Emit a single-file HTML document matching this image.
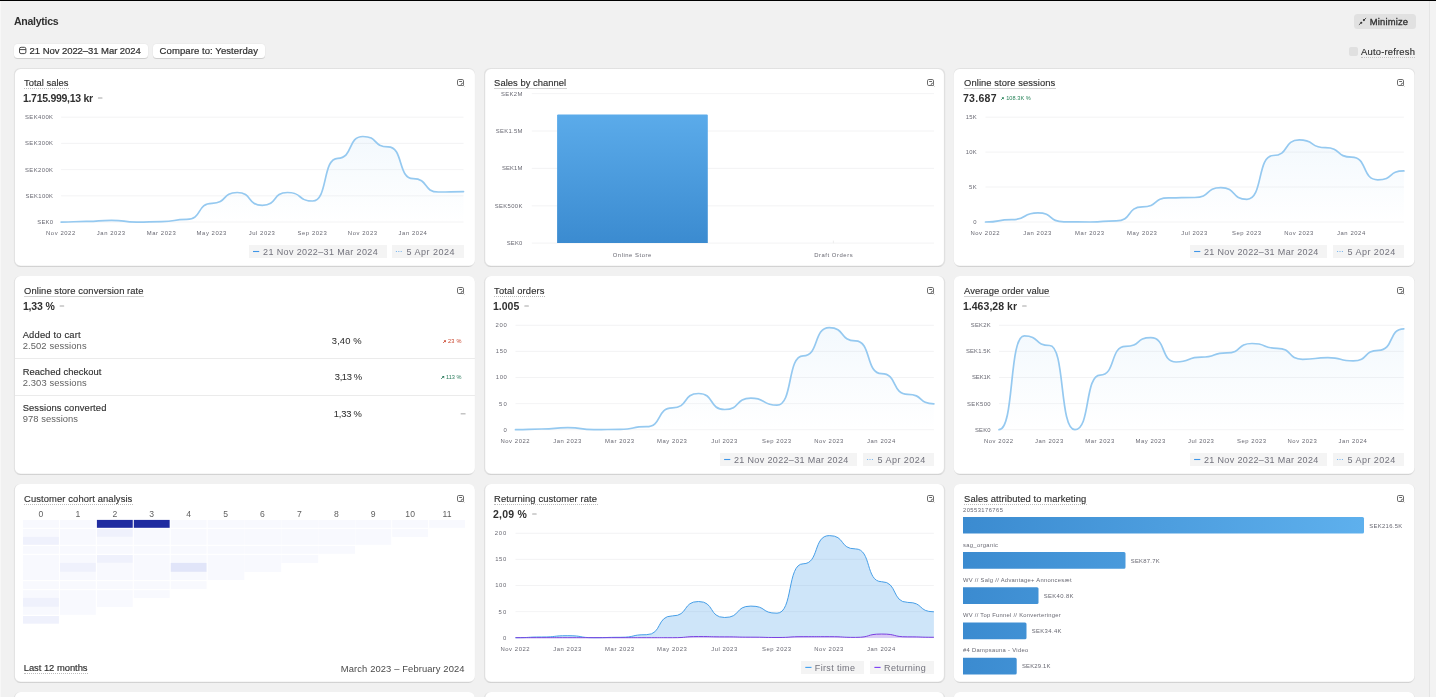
<!DOCTYPE html>
<html><head><meta charset="utf-8"><title>Analytics</title>
<style>
html,body{margin:0;padding:0;}
body{width:1436px;height:697px;overflow:hidden;position:relative;background:#f1f1f1;font-family:"Liberation Sans",sans-serif;}
.t{position:absolute;white-space:nowrap;}
.card{position:absolute;background:#fff;border-radius:6px;box-shadow:0 1px 0 0 rgba(0,0,0,0.12),0 0 0 0.5px rgba(0,0,0,0.07);}
.abs{position:absolute;}
svg{position:absolute;left:0;top:0;overflow:visible;}
svg text{font-family:"Liberation Sans",sans-serif;}
.ul{position:absolute;height:0;border-top:1px dotted #bcbcbc;}
#root{position:absolute;left:0;top:0;width:1436px;height:697px;will-change:transform;}
</style></head><body><div id="root">
<div class="abs" style="left:0;top:0;width:1436px;height:1px;background:#000"></div>
<div class="abs" style="left:0;top:1px;width:1px;height:696px;background:#f7f7f7"></div>
<div class="abs" style="left:1429px;top:1px;width:1px;height:696px;background:#e4e4e4"></div>
<div class="abs" style="left:1430px;top:1px;width:6px;height:696px;background:#f3f3f3"></div>
<svg width="1436" height="697"><defs><linearGradient id="cardg" x1="0" y1="0" x2="0" y2="1"><stop offset="0" stop-color="#e2e2e2"/><stop offset="0.02" stop-color="#e0e0e0"/><stop offset="0.99" stop-color="#e0e0e0"/><stop offset="1" stop-color="#cfcfcf"/></linearGradient></defs></svg>
<span class="t " style="left:13.90px;top:14px;font-size:10.6px;line-height:14px;color:#303030;font-weight:700;letter-spacing:-0.292px;">Analytics</span>
<div class="abs" style="left:14.2px;top:43.6px;width:133.5px;height:14.0px;background:#fff;border-radius:3.5px;box-shadow:0 1px 0 0 rgba(0,0,0,0.13),0 0 0 0.5px rgba(0,0,0,0.04)"></div>
<div class="abs" style="left:153.2px;top:43.6px;width:111.6px;height:14.0px;background:#fff;border-radius:3.5px;box-shadow:0 1px 0 0 rgba(0,0,0,0.13),0 0 0 0.5px rgba(0,0,0,0.04)"></div>
<svg width="1436" height="697"><g fill="none" stroke="#4a4a4a" stroke-width="1"><rect x="19.5" y="47.3" width="6.4" height="6.3" rx="1.6"/><path d="M19.5 49.6h6.4"/></g></svg>
<span class="t " style="left:29.60px;top:45px;font-size:9.5px;line-height:12px;color:#303030;letter-spacing:-0.057px;-webkit-text-stroke:0.2px #303030;">21 Nov 2022–31 Mar 2024</span>
<span class="t " style="left:159.60px;top:45px;font-size:9.5px;line-height:12px;color:#303030;letter-spacing:0.084px;-webkit-text-stroke:0.2px #303030;">Compare to: Yesterday</span>
<div class="abs" style="left:1354px;top:14.2px;width:61.8px;height:14.5px;background:#e1e1e1;border-radius:3.5px"></div>
<svg width="1436" height="697"><path d="M1359.2 24.6L1361 22.9M1364.2 19.8L1365.8 18.3" fill="none" stroke="#3a3a3a" stroke-width="0.9" stroke-linecap="round"/><g fill="#333"><circle cx="1361.3" cy="22.7" r="1.05"/><circle cx="1363.9" cy="20.1" r="1.05"/></g></svg>
<span class="t " style="left:1369.80px;top:16px;font-size:9.4px;line-height:12px;color:#303030;letter-spacing:0.177px;-webkit-text-stroke:0.3px #303030;">Minimize</span>
<div class="abs" style="left:1349.2px;top:47px;width:8.6px;height:8.7px;background:#e0e0e0;border-radius:2px"></div>
<span class="t " style="left:1361.10px;top:46px;font-size:9.4px;line-height:12px;color:#303030;letter-spacing:0.198px;-webkit-text-stroke:0.15px #303030;">Auto-refresh</span>
<div class="ul" style="left:1361px;top:57px;width:54.4px;border-top-color:#c6c6c6"></div>
<svg width="1436" height="697"><rect x="13.90" y="68.00" width="461.15" height="198.90" rx="6.4" fill="url(#cardg)"/><rect x="14.90" y="69.00" width="460.00" height="196.80" rx="5.8" fill="#fff"/></svg>
<svg width="1436" height="697"><g fill="none" stroke="#6c6c6c" stroke-width="1"><rect x="457.5" y="79.5" width="6" height="6" rx="1.3" fill="#fff"/><path d="M459.2 81.5h2.8"/><circle cx="462.4" cy="84.4" r="1.15" fill="#fff"/><path d="M463.3 85.3l1 1" stroke-width="0.8"/></g></svg>
<span class="t " style="left:24.10px;top:77px;font-size:9.4px;line-height:12px;color:#303030;letter-spacing:0.008px;-webkit-text-stroke:0.14px #303030;">Total sales</span>
<div class="ul" style="left:24.0px;top:88.1px;width:45.0px;"></div>
<span class="t " style="left:22.90px;top:91px;font-size:10.5px;line-height:14px;color:#303030;font-weight:700;letter-spacing:-0.277px;">1.715.999,13 kr</span>
<svg width="1436" height="697"><rect x="97.9" y="97.2" width="4.6" height="1.6" rx="0.5" fill="#c4c4c4"/></svg>
<svg width="1436" height="697"><defs><linearGradient id="g1" x1="0" y1="0" x2="0" y2="1"><stop offset="0" stop-color="#8fc5ee" stop-opacity="0.105"/><stop offset="1" stop-color="#8fc5ee" stop-opacity="0"/></linearGradient></defs><path d="M61.1 117.20H463.5" stroke="#f0f0f1" stroke-width="0.8"/><path d="M61.1 143.40H463.5" stroke="#f0f0f1" stroke-width="0.8"/><path d="M61.1 169.60H463.5" stroke="#f0f0f1" stroke-width="0.8"/><path d="M61.1 195.80H463.5" stroke="#f0f0f1" stroke-width="0.8"/><path d="M61.1 222.00H463.5" stroke="#f0f0f1" stroke-width="0.8"/><text x="53.00" y="119.10" font-size="5.9" text-anchor="end" textLength="28.00" lengthAdjust="spacing" fill="#686872">SEK400K</text><text x="53.00" y="145.30" font-size="5.9" text-anchor="end" textLength="28.00" lengthAdjust="spacing" fill="#686872">SEK300K</text><text x="53.00" y="171.50" font-size="5.9" text-anchor="end" textLength="28.00" lengthAdjust="spacing" fill="#686872">SEK200K</text><text x="53.00" y="197.70" font-size="5.9" text-anchor="end" textLength="27.40" lengthAdjust="spacing" fill="#686872">SEK100K</text><text x="53.00" y="223.90" font-size="5.9" text-anchor="end" textLength="15.70" lengthAdjust="spacing" fill="#686872">SEK0</text><text x="60.60" y="235.20" font-size="5.9" text-anchor="middle" textLength="29.20" lengthAdjust="spacing" fill="#686872">Nov 2022</text><text x="110.90" y="235.20" font-size="5.9" text-anchor="middle" textLength="28.20" lengthAdjust="spacing" fill="#686872">Jan 2023</text><text x="161.20" y="235.20" font-size="5.9" text-anchor="middle" textLength="29.00" lengthAdjust="spacing" fill="#686872">Mar 2023</text><text x="211.50" y="235.20" font-size="5.9" text-anchor="middle" textLength="29.80" lengthAdjust="spacing" fill="#686872">May 2023</text><text x="261.80" y="235.20" font-size="5.9" text-anchor="middle" textLength="26.00" lengthAdjust="spacing" fill="#686872">Jul 2023</text><text x="312.10" y="235.20" font-size="5.9" text-anchor="middle" textLength="29.20" lengthAdjust="spacing" fill="#686872">Sep 2023</text><text x="362.40" y="235.20" font-size="5.9" text-anchor="middle" textLength="29.20" lengthAdjust="spacing" fill="#686872">Nov 2023</text><text x="412.70" y="235.20" font-size="5.9" text-anchor="middle" textLength="28.20" lengthAdjust="spacing" fill="#686872">Jan 2024</text><path d="M61.10,222.10C76.69,222.10 70.66,221.40 86.25,221.40C101.84,221.40 95.81,220.30 111.40,220.30C126.99,220.30 120.96,222.10 136.55,222.10C152.14,222.10 146.11,221.60 161.70,221.60C177.29,221.60 171.26,219.40 186.85,219.40C202.44,219.40 196.41,203.30 212.00,203.30C227.59,203.30 221.56,192.50 237.15,192.50C252.74,192.50 246.71,205.30 262.30,205.30C277.89,205.30 271.86,192.50 287.45,192.50C303.04,192.50 297.01,201.00 312.60,201.00C328.19,201.00 322.16,158.30 337.75,158.30C353.34,158.30 347.31,136.50 362.90,136.50C378.49,136.50 372.46,146.80 388.05,146.80C403.64,146.80 397.61,178.70 413.20,178.70C428.79,178.70 422.76,192.00 438.35,192.00C453.94,192.00 447.91,191.60 463.50,191.60L463.50,222.00L61.10,222.00Z" fill="url(#g1)"/><path d="M61.10,222.10C76.69,222.10 70.66,221.40 86.25,221.40C101.84,221.40 95.81,220.30 111.40,220.30C126.99,220.30 120.96,222.10 136.55,222.10C152.14,222.10 146.11,221.60 161.70,221.60C177.29,221.60 171.26,219.40 186.85,219.40C202.44,219.40 196.41,203.30 212.00,203.30C227.59,203.30 221.56,192.50 237.15,192.50C252.74,192.50 246.71,205.30 262.30,205.30C277.89,205.30 271.86,192.50 287.45,192.50C303.04,192.50 297.01,201.00 312.60,201.00C328.19,201.00 322.16,158.30 337.75,158.30C353.34,158.30 347.31,136.50 362.90,136.50C378.49,136.50 372.46,146.80 388.05,146.80C403.64,146.80 397.61,178.70 413.20,178.70C428.79,178.70 422.76,192.00 438.35,192.00C453.94,192.00 447.91,191.60 463.50,191.60" fill="none" stroke="#95c9f0" stroke-width="1.7" stroke-linecap="round"/></svg>
<div class="abs" style="left:391.9px;top:245.2px;width:72.1px;height:12.5px;background:#f4f4f4"></div>
<span class="t " style="left:406.50px;top:246px;font-size:9.0px;line-height:12px;color:#72727c;letter-spacing:0.506px;height:11px;overflow:hidden;">5 Apr 2024</span>
<div class="abs" style="left:248.9px;top:245.2px;width:137.8px;height:12.5px;background:#f4f4f4"></div>
<span class="t " style="left:263.10px;top:246px;font-size:9.0px;line-height:12px;color:#72727c;letter-spacing:0.366px;height:11px;overflow:hidden;">21 Nov 2022–31 Mar 2024</span>
<svg width="1436" height="697"><path d="M395.9 251.5h6" stroke="#6fb1ee" stroke-width="1" stroke-dasharray="1 1.4"/><path d="M253.0 251.5h6.2" stroke="#3f96e8" stroke-width="1.1"/></svg>
<svg width="1436" height="697"><rect x="484.00" y="68.00" width="461.20" height="198.90" rx="6.4" fill="url(#cardg)"/><rect x="485.20" y="69.00" width="458.70" height="196.80" rx="5.8" fill="#fff"/></svg>
<svg width="1436" height="697"><g fill="none" stroke="#6c6c6c" stroke-width="1"><rect x="927.5" y="79.5" width="6" height="6" rx="1.3" fill="#fff"/><path d="M929.2 81.5h2.8"/><circle cx="932.4" cy="84.4" r="1.15" fill="#fff"/><path d="M933.3 85.3l1 1" stroke-width="0.8"/></g></svg>
<span class="t " style="left:494.10px;top:77px;font-size:9.4px;line-height:12px;color:#303030;letter-spacing:0.044px;-webkit-text-stroke:0.14px #303030;">Sales by channel</span>
<div class="ul" style="left:494.0px;top:88.1px;width:72.8px;border-top:1px solid #d3d3d3;"></div>
<svg width="1436" height="697"><defs><linearGradient id="gb" x1="0" y1="0" x2="0" y2="1"><stop offset="0" stop-color="#5babea"/><stop offset="1" stop-color="#3b8bd0"/></linearGradient></defs><path d="M531.8 93.60H934" stroke="#f0f0f1" stroke-width="0.8"/><path d="M531.8 131.00H934" stroke="#f0f0f1" stroke-width="0.8"/><path d="M531.8 168.40H934" stroke="#f0f0f1" stroke-width="0.8"/><path d="M531.8 205.80H934" stroke="#f0f0f1" stroke-width="0.8"/><path d="M531.8 243.10H934" stroke="#f0f0f1" stroke-width="0.8"/><text x="522.40" y="95.50" font-size="5.9" text-anchor="end" textLength="21.50" lengthAdjust="spacing" fill="#686872">SEK2M</text><text x="522.40" y="132.90" font-size="5.9" text-anchor="end" textLength="26.70" lengthAdjust="spacing" fill="#686872">SEK1.5M</text><text x="522.40" y="170.30" font-size="5.9" text-anchor="end" textLength="20.40" lengthAdjust="spacing" fill="#686872">SEK1M</text><text x="522.40" y="207.70" font-size="5.9" text-anchor="end" textLength="27.60" lengthAdjust="spacing" fill="#686872">SEK500K</text><text x="522.40" y="245.00" font-size="5.9" text-anchor="end" textLength="15.70" lengthAdjust="spacing" fill="#686872">SEK0</text><path d="M557.1 243.1V115.5a1 1 0 0 1 1-1H706.8a1 1 0 0 1 1 1V243.1Z" fill="url(#gb)"/><path d="M833.4 240.6v2.5" stroke="#e8e8e8" stroke-width="0.8"/><text x="632.00" y="256.90" font-size="5.9" text-anchor="middle" textLength="38.50" lengthAdjust="spacing" fill="#686872">Online Store</text><text x="833.40" y="256.90" font-size="5.9" text-anchor="middle" textLength="38.50" lengthAdjust="spacing" fill="#686872">Draft Orders</text></svg>
<svg width="1436" height="697"><rect x="953.65" y="68.00" width="461.25" height="198.90" rx="6.4" fill="url(#cardg)"/><rect x="953.80" y="69.00" width="460.60" height="196.80" rx="5.8" fill="#fff"/></svg>
<svg width="1436" height="697"><g fill="none" stroke="#6c6c6c" stroke-width="1"><rect x="1397.5" y="79.5" width="6" height="6" rx="1.3" fill="#fff"/><path d="M1399.2 81.5h2.8"/><circle cx="1402.4" cy="84.4" r="1.15" fill="#fff"/><path d="M1403.3 85.3l1 1" stroke-width="0.8"/></g></svg>
<span class="t " style="left:964.10px;top:77px;font-size:9.4px;line-height:12px;color:#303030;letter-spacing:0.078px;-webkit-text-stroke:0.14px #303030;">Online store sessions</span>
<div class="ul" style="left:964.0px;top:88.1px;width:92.0px;border-top:1px solid #d3d3d3;"></div>
<span class="t " style="left:962.90px;top:91px;font-size:10.5px;line-height:14px;color:#303030;font-weight:700;letter-spacing:0.314px;">73.687</span>
<span class="t " style="left:1006.20px;top:95px;font-size:5.6px;line-height:7px;color:#29845a;letter-spacing:0.039px;">108.3K %</span>
<svg width="1436" height="697"><path d="M1001.2 99.8l2-2" fill="none" stroke="#29845a" stroke-width="0.9"/><path d="M1001.6 97.2h2.2v2.2z" fill="#29845a"/></svg>
<svg width="1436" height="697"><defs><linearGradient id="g3" x1="0" y1="0" x2="0" y2="1"><stop offset="0" stop-color="#8fc5ee" stop-opacity="0.105"/><stop offset="1" stop-color="#8fc5ee" stop-opacity="0"/></linearGradient></defs><path d="M985.5 117.20H1403.9" stroke="#f0f0f1" stroke-width="0.8"/><path d="M985.5 152.10H1403.9" stroke="#f0f0f1" stroke-width="0.8"/><path d="M985.5 187.00H1403.9" stroke="#f0f0f1" stroke-width="0.8"/><path d="M985.5 222.00H1403.9" stroke="#f0f0f1" stroke-width="0.8"/><text x="976.60" y="119.10" font-size="5.9" text-anchor="end" textLength="10.80" lengthAdjust="spacing" fill="#686872">15K</text><text x="976.60" y="154.00" font-size="5.9" text-anchor="end" textLength="10.80" lengthAdjust="spacing" fill="#686872">10K</text><text x="976.60" y="188.90" font-size="5.9" text-anchor="end" textLength="7.60" lengthAdjust="spacing" fill="#686872">5K</text><text x="976.60" y="223.90" font-size="5.9" text-anchor="end" textLength="3.40" lengthAdjust="spacing" fill="#686872">0</text><text x="985.00" y="235.20" font-size="5.9" text-anchor="middle" textLength="29.20" lengthAdjust="spacing" fill="#686872">Nov 2022</text><text x="1037.30" y="235.20" font-size="5.9" text-anchor="middle" textLength="28.20" lengthAdjust="spacing" fill="#686872">Jan 2023</text><text x="1089.60" y="235.20" font-size="5.9" text-anchor="middle" textLength="29.00" lengthAdjust="spacing" fill="#686872">Mar 2023</text><text x="1141.90" y="235.20" font-size="5.9" text-anchor="middle" textLength="29.80" lengthAdjust="spacing" fill="#686872">May 2023</text><text x="1194.20" y="235.20" font-size="5.9" text-anchor="middle" textLength="26.00" lengthAdjust="spacing" fill="#686872">Jul 2023</text><text x="1246.50" y="235.20" font-size="5.9" text-anchor="middle" textLength="29.20" lengthAdjust="spacing" fill="#686872">Sep 2023</text><text x="1298.80" y="235.20" font-size="5.9" text-anchor="middle" textLength="29.20" lengthAdjust="spacing" fill="#686872">Nov 2023</text><text x="1351.10" y="235.20" font-size="5.9" text-anchor="middle" textLength="28.20" lengthAdjust="spacing" fill="#686872">Jan 2024</text><path d="M985.50,222.00C1001.71,222.00 995.44,219.70 1011.65,219.70C1027.86,219.70 1021.59,212.80 1037.80,212.80C1054.01,212.80 1047.74,221.80 1063.95,221.80C1080.16,221.80 1073.89,222.00 1090.10,222.00C1106.31,222.00 1100.04,220.90 1116.25,220.90C1132.46,220.90 1126.19,206.90 1142.40,206.90C1158.61,206.90 1152.34,197.90 1168.55,197.90C1184.76,197.90 1178.49,197.50 1194.70,197.50C1210.91,197.50 1204.64,187.60 1220.85,187.60C1237.06,187.60 1230.79,199.30 1247.00,199.30C1263.21,199.30 1256.94,155.50 1273.15,155.50C1289.36,155.50 1283.09,139.90 1299.30,139.90C1315.51,139.90 1309.24,147.70 1325.45,147.70C1341.66,147.70 1335.39,157.10 1351.60,157.10C1367.81,157.10 1361.54,179.80 1377.75,179.80C1393.96,179.80 1387.69,170.90 1403.90,170.90L1403.90,222.00L985.50,222.00Z" fill="url(#g3)"/><path d="M985.50,222.00C1001.71,222.00 995.44,219.70 1011.65,219.70C1027.86,219.70 1021.59,212.80 1037.80,212.80C1054.01,212.80 1047.74,221.80 1063.95,221.80C1080.16,221.80 1073.89,222.00 1090.10,222.00C1106.31,222.00 1100.04,220.90 1116.25,220.90C1132.46,220.90 1126.19,206.90 1142.40,206.90C1158.61,206.90 1152.34,197.90 1168.55,197.90C1184.76,197.90 1178.49,197.50 1194.70,197.50C1210.91,197.50 1204.64,187.60 1220.85,187.60C1237.06,187.60 1230.79,199.30 1247.00,199.30C1263.21,199.30 1256.94,155.50 1273.15,155.50C1289.36,155.50 1283.09,139.90 1299.30,139.90C1315.51,139.90 1309.24,147.70 1325.45,147.70C1341.66,147.70 1335.39,157.10 1351.60,157.10C1367.81,157.10 1361.54,179.80 1377.75,179.80C1393.96,179.80 1387.69,170.90 1403.90,170.90" fill="none" stroke="#95c9f0" stroke-width="1.7" stroke-linecap="round"/></svg>
<div class="abs" style="left:1333.1px;top:245.2px;width:70.9px;height:12.5px;background:#f4f4f4"></div>
<span class="t " style="left:1347.60px;top:246px;font-size:9.0px;line-height:12px;color:#72727c;letter-spacing:0.446px;height:11px;overflow:hidden;">5 Apr 2024</span>
<div class="abs" style="left:1190.0px;top:245.2px;width:136.8px;height:12.5px;background:#f4f4f4"></div>
<span class="t " style="left:1203.90px;top:246px;font-size:9.0px;line-height:12px;color:#72727c;letter-spacing:0.357px;height:11px;overflow:hidden;">21 Nov 2022–31 Mar 2024</span>
<svg width="1436" height="697"><path d="M1337.1 251.5h6" stroke="#6fb1ee" stroke-width="1" stroke-dasharray="1 1.4"/><path d="M1194.1 251.5h6.2" stroke="#3f96e8" stroke-width="1.1"/></svg>
<svg width="1436" height="697"><rect x="13.90" y="275.90" width="461.15" height="199.00" rx="6.4" fill="url(#cardg)"/><rect x="14.90" y="276.00" width="460.00" height="197.80" rx="5.8" fill="#fff"/></svg>
<svg width="1436" height="697"><g fill="none" stroke="#6c6c6c" stroke-width="1"><rect x="457.5" y="287.5" width="6" height="6" rx="1.3" fill="#fff"/><path d="M459.2 289.5h2.8"/><circle cx="462.4" cy="292.4" r="1.15" fill="#fff"/><path d="M463.3 293.3l1 1" stroke-width="0.8"/></g></svg>
<span class="t " style="left:24.10px;top:285px;font-size:9.4px;line-height:12px;color:#303030;letter-spacing:0.080px;-webkit-text-stroke:0.14px #303030;">Online store conversion rate</span>
<div class="ul" style="left:24.0px;top:296.1px;width:120.3px;border-top:1px solid #d3d3d3;"></div>
<span class="t " style="left:22.90px;top:299px;font-size:10.5px;line-height:14px;color:#303030;font-weight:700;letter-spacing:-0.165px;">1,33 %</span>
<svg width="1436" height="697"><rect x="59.6" y="305.2" width="4.6" height="1.6" rx="0.5" fill="#c4c4c4"/></svg>
<span class="t " style="left:22.70px;top:329px;font-size:9.4px;line-height:12px;color:#303030;letter-spacing:0.176px;-webkit-text-stroke:0.14px #303030;">Added to cart</span>
<span class="t " style="left:22.70px;top:340px;font-size:9.4px;line-height:12px;color:#616161;letter-spacing:0.107px;">2.502 sessions</span>
<span class="t " style="left:331.80px;top:335px;font-size:9.4px;line-height:12px;color:#303030;letter-spacing:0.123px;-webkit-text-stroke:0.05px #303030;">3,40 %</span>
<span class="t " style="left:22.70px;top:366px;font-size:9.4px;line-height:12px;color:#303030;letter-spacing:0.071px;-webkit-text-stroke:0.14px #303030;">Reached checkout</span>
<span class="t " style="left:22.70px;top:377px;font-size:9.4px;line-height:12px;color:#616161;letter-spacing:0.114px;">2.303 sessions</span>
<span class="t " style="left:334.80px;top:371px;font-size:9.4px;line-height:12px;color:#303030;letter-spacing:-0.377px;-webkit-text-stroke:0.05px #303030;">3,13 %</span>
<span class="t " style="left:22.70px;top:402px;font-size:9.4px;line-height:12px;color:#303030;letter-spacing:0.109px;-webkit-text-stroke:0.14px #303030;">Sessions converted</span>
<span class="t " style="left:22.70px;top:413px;font-size:9.4px;line-height:12px;color:#616161;letter-spacing:0.053px;">978 sessions</span>
<span class="t " style="left:333.80px;top:408px;font-size:9.4px;line-height:12px;color:#303030;letter-spacing:-0.211px;-webkit-text-stroke:0.05px #303030;">1,33 %</span>
<div class="abs" style="left:14.5px;top:358.2px;width:460.2px;height:1px;background:#ebebeb"></div>
<div class="abs" style="left:14.5px;top:395.3px;width:460.2px;height:1px;background:#ebebeb"></div>
<span class="t " style="left:448.00px;top:338px;font-size:5.6px;line-height:7px;color:#c9432b;letter-spacing:0.209px;">23 %</span>
<svg width="1436" height="697"><path d="M443.2 342.9l2-2" fill="none" stroke="#c9432b" stroke-width="0.9"/><path d="M443.7 340.2h2.2v2.2z" fill="#c9432b"/></svg>
<span class="t " style="left:446.00px;top:374px;font-size:5.6px;line-height:7px;color:#2d7d5e;letter-spacing:0.007px;">113 %</span>
<svg width="1436" height="697"><path d="M441.2 378.9l2-2" fill="none" stroke="#2d7d5e" stroke-width="0.9"/><path d="M441.9 376.1h2.3v2.3z" fill="#2d7d5e"/></svg>
<svg width="1436" height="697"><rect x="460.6" y="413.0" width="5" height="1.6" rx="0.5" fill="#c4c4c4"/></svg>
<svg width="1436" height="697"><rect x="484.00" y="275.90" width="461.20" height="199.00" rx="6.4" fill="url(#cardg)"/><rect x="485.20" y="276.00" width="458.70" height="197.80" rx="5.8" fill="#fff"/></svg>
<svg width="1436" height="697"><g fill="none" stroke="#6c6c6c" stroke-width="1"><rect x="927.5" y="287.5" width="6" height="6" rx="1.3" fill="#fff"/><path d="M929.2 289.5h2.8"/><circle cx="932.4" cy="292.4" r="1.15" fill="#fff"/><path d="M933.3 293.3l1 1" stroke-width="0.8"/></g></svg>
<span class="t " style="left:494.10px;top:285px;font-size:9.4px;line-height:12px;color:#303030;letter-spacing:0.124px;-webkit-text-stroke:0.14px #303030;">Total orders</span>
<div class="ul" style="left:494.0px;top:296.1px;width:51.1px;"></div>
<span class="t " style="left:492.90px;top:299px;font-size:10.5px;line-height:14px;color:#303030;font-weight:700;letter-spacing:0.025px;">1.005</span>
<svg width="1436" height="697"><rect x="524.3" y="305.2" width="4.6" height="1.6" rx="0.5" fill="#c4c4c4"/></svg>
<svg width="1436" height="697"><defs><linearGradient id="g5" x1="0" y1="0" x2="0" y2="1"><stop offset="0" stop-color="#8fc5ee" stop-opacity="0.105"/><stop offset="1" stop-color="#8fc5ee" stop-opacity="0"/></linearGradient></defs><path d="M515.5 325.30H933.9" stroke="#f0f0f1" stroke-width="0.8"/><path d="M515.5 351.40H933.9" stroke="#f0f0f1" stroke-width="0.8"/><path d="M515.5 377.50H933.9" stroke="#f0f0f1" stroke-width="0.8"/><path d="M515.5 403.60H933.9" stroke="#f0f0f1" stroke-width="0.8"/><path d="M515.5 429.70H933.9" stroke="#f0f0f1" stroke-width="0.8"/><text x="506.80" y="327.20" font-size="5.9" text-anchor="end" textLength="11.40" lengthAdjust="spacing" fill="#686872">200</text><text x="506.80" y="353.30" font-size="5.9" text-anchor="end" textLength="11.00" lengthAdjust="spacing" fill="#686872">150</text><text x="506.80" y="379.40" font-size="5.9" text-anchor="end" textLength="11.00" lengthAdjust="spacing" fill="#686872">100</text><text x="506.80" y="405.50" font-size="5.9" text-anchor="end" textLength="7.80" lengthAdjust="spacing" fill="#686872">50</text><text x="506.80" y="431.60" font-size="5.9" text-anchor="end" textLength="3.40" lengthAdjust="spacing" fill="#686872">0</text><text x="515.00" y="443.20" font-size="5.9" text-anchor="middle" textLength="29.20" lengthAdjust="spacing" fill="#686872">Nov 2022</text><text x="567.30" y="443.20" font-size="5.9" text-anchor="middle" textLength="28.20" lengthAdjust="spacing" fill="#686872">Jan 2023</text><text x="619.60" y="443.20" font-size="5.9" text-anchor="middle" textLength="29.00" lengthAdjust="spacing" fill="#686872">Mar 2023</text><text x="671.90" y="443.20" font-size="5.9" text-anchor="middle" textLength="29.80" lengthAdjust="spacing" fill="#686872">May 2023</text><text x="724.20" y="443.20" font-size="5.9" text-anchor="middle" textLength="26.00" lengthAdjust="spacing" fill="#686872">Jul 2023</text><text x="776.50" y="443.20" font-size="5.9" text-anchor="middle" textLength="29.20" lengthAdjust="spacing" fill="#686872">Sep 2023</text><text x="828.80" y="443.20" font-size="5.9" text-anchor="middle" textLength="29.20" lengthAdjust="spacing" fill="#686872">Nov 2023</text><text x="881.10" y="443.20" font-size="5.9" text-anchor="middle" textLength="28.20" lengthAdjust="spacing" fill="#686872">Jan 2024</text><path d="M515.50,429.70C531.71,429.70 525.44,429.00 541.65,429.00C557.86,429.00 551.59,427.70 567.80,427.70C584.01,427.70 577.74,429.70 593.95,429.70C610.16,429.70 603.89,429.30 620.10,429.30C636.31,429.30 630.04,426.70 646.25,426.70C662.46,426.70 656.19,407.90 672.40,407.90C688.61,407.90 682.34,393.50 698.55,393.50C714.76,393.50 708.49,409.50 724.70,409.50C740.91,409.50 734.64,398.10 750.85,398.10C767.06,398.10 760.79,405.20 777.00,405.20C793.21,405.20 786.94,355.80 803.15,355.80C819.36,355.80 813.09,327.60 829.30,327.60C845.51,327.60 839.24,340.90 855.45,340.90C871.66,340.90 865.39,373.70 881.60,373.70C897.81,373.70 891.54,394.40 907.75,394.40C923.96,394.40 917.69,403.80 933.90,403.80L933.90,429.70L515.50,429.70Z" fill="url(#g5)"/><path d="M515.50,429.70C531.71,429.70 525.44,429.00 541.65,429.00C557.86,429.00 551.59,427.70 567.80,427.70C584.01,427.70 577.74,429.70 593.95,429.70C610.16,429.70 603.89,429.30 620.10,429.30C636.31,429.30 630.04,426.70 646.25,426.70C662.46,426.70 656.19,407.90 672.40,407.90C688.61,407.90 682.34,393.50 698.55,393.50C714.76,393.50 708.49,409.50 724.70,409.50C740.91,409.50 734.64,398.10 750.85,398.10C767.06,398.10 760.79,405.20 777.00,405.20C793.21,405.20 786.94,355.80 803.15,355.80C819.36,355.80 813.09,327.60 829.30,327.60C845.51,327.60 839.24,340.90 855.45,340.90C871.66,340.90 865.39,373.70 881.60,373.70C897.81,373.70 891.54,394.40 907.75,394.40C923.96,394.40 917.69,403.80 933.90,403.80" fill="none" stroke="#95c9f0" stroke-width="1.7" stroke-linecap="round"/></svg>
<div class="abs" style="left:863.1px;top:453.2px;width:70.9px;height:12.5px;background:#f4f4f4"></div>
<span class="t " style="left:877.60px;top:454px;font-size:9.0px;line-height:12px;color:#72727c;letter-spacing:0.446px;height:11px;overflow:hidden;">5 Apr 2024</span>
<div class="abs" style="left:720.0px;top:453.2px;width:136.8px;height:12.5px;background:#f4f4f4"></div>
<span class="t " style="left:733.90px;top:454px;font-size:9.0px;line-height:12px;color:#72727c;letter-spacing:0.357px;height:11px;overflow:hidden;">21 Nov 2022–31 Mar 2024</span>
<svg width="1436" height="697"><path d="M867.1 459.5h6" stroke="#6fb1ee" stroke-width="1" stroke-dasharray="1 1.4"/><path d="M724.1 459.5h6.2" stroke="#3f96e8" stroke-width="1.1"/></svg>
<svg width="1436" height="697"><rect x="953.65" y="275.90" width="461.25" height="199.00" rx="6.4" fill="url(#cardg)"/><rect x="953.80" y="276.00" width="460.60" height="197.80" rx="5.8" fill="#fff"/></svg>
<svg width="1436" height="697"><g fill="none" stroke="#6c6c6c" stroke-width="1"><rect x="1397.5" y="287.5" width="6" height="6" rx="1.3" fill="#fff"/><path d="M1399.2 289.5h2.8"/><circle cx="1402.4" cy="292.4" r="1.15" fill="#fff"/><path d="M1403.3 293.3l1 1" stroke-width="0.8"/></g></svg>
<span class="t " style="left:964.10px;top:285px;font-size:9.4px;line-height:12px;color:#303030;letter-spacing:0.053px;-webkit-text-stroke:0.14px #303030;">Average order value</span>
<div class="ul" style="left:964.0px;top:296.1px;width:86.0px;border-top:1px solid #d3d3d3;"></div>
<span class="t " style="left:962.90px;top:299px;font-size:10.5px;line-height:14px;color:#303030;font-weight:700;letter-spacing:0.044px;">1.463,28 kr</span>
<svg width="1436" height="697"><rect x="1022.1" y="305.2" width="4.6" height="1.6" rx="0.5" fill="#c4c4c4"/></svg>
<svg width="1436" height="697"><defs><linearGradient id="g6" x1="0" y1="0" x2="0" y2="1"><stop offset="0" stop-color="#8fc5ee" stop-opacity="0.105"/><stop offset="1" stop-color="#8fc5ee" stop-opacity="0"/></linearGradient></defs><path d="M999.0 325.30H1403.8" stroke="#f0f0f1" stroke-width="0.8"/><path d="M999.0 351.40H1403.8" stroke="#f0f0f1" stroke-width="0.8"/><path d="M999.0 377.50H1403.8" stroke="#f0f0f1" stroke-width="0.8"/><path d="M999.0 403.60H1403.8" stroke="#f0f0f1" stroke-width="0.8"/><path d="M999.0 429.70H1403.8" stroke="#f0f0f1" stroke-width="0.8"/><text x="990.60" y="327.20" font-size="5.9" text-anchor="end" textLength="19.80" lengthAdjust="spacing" fill="#686872">SEK2K</text><text x="990.60" y="353.30" font-size="5.9" text-anchor="end" textLength="24.60" lengthAdjust="spacing" fill="#686872">SEK1.5K</text><text x="990.60" y="379.40" font-size="5.9" text-anchor="end" textLength="18.60" lengthAdjust="spacing" fill="#686872">SEK1K</text><text x="990.60" y="405.50" font-size="5.9" text-anchor="end" textLength="23.60" lengthAdjust="spacing" fill="#686872">SEK500</text><text x="990.60" y="431.60" font-size="5.9" text-anchor="end" textLength="15.70" lengthAdjust="spacing" fill="#686872">SEK0</text><text x="998.50" y="443.20" font-size="5.9" text-anchor="middle" textLength="29.20" lengthAdjust="spacing" fill="#686872">Nov 2022</text><text x="1049.10" y="443.20" font-size="5.9" text-anchor="middle" textLength="28.20" lengthAdjust="spacing" fill="#686872">Jan 2023</text><text x="1099.70" y="443.20" font-size="5.9" text-anchor="middle" textLength="29.00" lengthAdjust="spacing" fill="#686872">Mar 2023</text><text x="1150.30" y="443.20" font-size="5.9" text-anchor="middle" textLength="29.80" lengthAdjust="spacing" fill="#686872">May 2023</text><text x="1200.90" y="443.20" font-size="5.9" text-anchor="middle" textLength="26.00" lengthAdjust="spacing" fill="#686872">Jul 2023</text><text x="1251.50" y="443.20" font-size="5.9" text-anchor="middle" textLength="29.20" lengthAdjust="spacing" fill="#686872">Sep 2023</text><text x="1302.10" y="443.20" font-size="5.9" text-anchor="middle" textLength="29.20" lengthAdjust="spacing" fill="#686872">Nov 2023</text><text x="1352.70" y="443.20" font-size="5.9" text-anchor="middle" textLength="28.20" lengthAdjust="spacing" fill="#686872">Jan 2024</text><path d="M999.00,429.70C1014.69,429.70 1008.61,335.90 1024.30,335.90C1039.99,335.90 1033.91,345.50 1049.60,345.50C1065.29,345.50 1059.21,429.70 1074.90,429.70C1090.59,429.70 1084.51,375.10 1100.20,375.10C1115.89,375.10 1109.81,346.40 1125.50,346.40C1141.19,346.40 1135.11,337.70 1150.80,337.70C1166.49,337.70 1160.41,362.00 1176.10,362.00C1191.79,362.00 1185.71,357.20 1201.40,357.20C1217.09,357.20 1211.01,352.90 1226.70,352.90C1242.39,352.90 1236.31,343.50 1252.00,343.50C1267.69,343.50 1261.61,348.30 1277.30,348.30C1292.99,348.30 1286.91,359.30 1302.60,359.30C1318.29,359.30 1312.21,357.70 1327.90,357.70C1343.59,357.70 1337.51,360.90 1353.20,360.90C1368.89,360.90 1362.81,350.30 1378.50,350.30C1394.19,350.30 1388.11,328.80 1403.80,328.80L1403.80,429.70L999.00,429.70Z" fill="url(#g6)"/><path d="M999.00,429.70C1014.69,429.70 1008.61,335.90 1024.30,335.90C1039.99,335.90 1033.91,345.50 1049.60,345.50C1065.29,345.50 1059.21,429.70 1074.90,429.70C1090.59,429.70 1084.51,375.10 1100.20,375.10C1115.89,375.10 1109.81,346.40 1125.50,346.40C1141.19,346.40 1135.11,337.70 1150.80,337.70C1166.49,337.70 1160.41,362.00 1176.10,362.00C1191.79,362.00 1185.71,357.20 1201.40,357.20C1217.09,357.20 1211.01,352.90 1226.70,352.90C1242.39,352.90 1236.31,343.50 1252.00,343.50C1267.69,343.50 1261.61,348.30 1277.30,348.30C1292.99,348.30 1286.91,359.30 1302.60,359.30C1318.29,359.30 1312.21,357.70 1327.90,357.70C1343.59,357.70 1337.51,360.90 1353.20,360.90C1368.89,360.90 1362.81,350.30 1378.50,350.30C1394.19,350.30 1388.11,328.80 1403.80,328.80" fill="none" stroke="#95c9f0" stroke-width="1.7" stroke-linecap="round"/></svg>
<div class="abs" style="left:1333.1px;top:453.2px;width:70.9px;height:12.5px;background:#f4f4f4"></div>
<span class="t " style="left:1347.60px;top:454px;font-size:9.0px;line-height:12px;color:#72727c;letter-spacing:0.446px;height:11px;overflow:hidden;">5 Apr 2024</span>
<div class="abs" style="left:1190.0px;top:453.2px;width:136.8px;height:12.5px;background:#f4f4f4"></div>
<span class="t " style="left:1203.90px;top:454px;font-size:9.0px;line-height:12px;color:#72727c;letter-spacing:0.357px;height:11px;overflow:hidden;">21 Nov 2022–31 Mar 2024</span>
<svg width="1436" height="697"><path d="M1337.1 459.5h6" stroke="#6fb1ee" stroke-width="1" stroke-dasharray="1 1.4"/><path d="M1194.1 459.5h6.2" stroke="#3f96e8" stroke-width="1.1"/></svg>
<svg width="1436" height="697"><rect x="13.90" y="483.90" width="461.15" height="199.00" rx="6.4" fill="url(#cardg)"/><rect x="14.90" y="484.00" width="460.00" height="197.80" rx="5.8" fill="#fff"/></svg>
<svg width="1436" height="697"><g fill="none" stroke="#6c6c6c" stroke-width="1"><rect x="457.5" y="495.5" width="6" height="6" rx="1.3" fill="#fff"/><path d="M459.2 497.5h2.8"/><circle cx="462.4" cy="500.4" r="1.15" fill="#fff"/><path d="M463.3 501.3l1 1" stroke-width="0.8"/></g></svg>
<span class="t " style="left:24.10px;top:493px;font-size:9.4px;line-height:12px;color:#303030;letter-spacing:0.106px;-webkit-text-stroke:0.14px #303030;">Customer cohort analysis</span>
<div class="ul" style="left:24.0px;top:504.1px;width:109.1px;"></div>
<svg width="1436" height="697"><rect x="23.05" y="519.90" width="35.85" height="7.90" fill="#f8f9fe"/><rect x="59.97" y="519.90" width="35.85" height="7.90" fill="#f8f9fe"/><rect x="96.89" y="519.90" width="35.85" height="7.90" fill="#1f2ba0"/><rect x="133.81" y="519.90" width="35.85" height="7.90" fill="#1f2ba0"/><rect x="170.73" y="519.90" width="35.85" height="7.90" fill="#f8f9fe"/><rect x="207.65" y="519.90" width="36.92" height="7.90" fill="#f8f9fe"/><rect x="244.57" y="519.90" width="36.92" height="7.90" fill="#f8f9fe"/><rect x="281.49" y="519.90" width="36.92" height="7.90" fill="#f8f9fe"/><rect x="318.41" y="519.90" width="36.92" height="7.90" fill="#f8f9fe"/><rect x="355.33" y="519.90" width="35.85" height="7.90" fill="#f8f9fe"/><rect x="392.25" y="519.90" width="35.85" height="7.90" fill="#f8f9fe"/><rect x="429.17" y="519.90" width="35.85" height="7.90" fill="#f8f9fe"/><rect x="23.05" y="528.90" width="35.85" height="8.00" fill="#f8f9fe"/><rect x="59.97" y="528.90" width="35.85" height="8.00" fill="#f8f9fe"/><rect x="96.89" y="528.90" width="35.85" height="8.00" fill="#eff1fc"/><rect x="133.81" y="528.90" width="35.85" height="8.00" fill="#f8f9fe"/><rect x="170.73" y="528.90" width="35.85" height="8.00" fill="#f8f9fe"/><rect x="207.65" y="528.90" width="36.92" height="8.00" fill="#f8f9fe"/><rect x="244.57" y="528.90" width="36.92" height="8.00" fill="#f8f9fe"/><rect x="281.49" y="528.90" width="36.92" height="8.00" fill="#f8f9fe"/><rect x="318.41" y="528.90" width="36.92" height="8.00" fill="#f8f9fe"/><rect x="355.33" y="528.90" width="35.85" height="8.00" fill="#f8f9fe"/><rect x="392.25" y="528.90" width="35.85" height="8.00" fill="#f8f9fe"/><rect x="23.05" y="536.90" width="35.85" height="7.90" fill="#eff1fc"/><rect x="59.97" y="536.90" width="35.85" height="7.90" fill="#f8f9fe"/><rect x="96.89" y="536.90" width="35.85" height="7.90" fill="#f8f9fe"/><rect x="133.81" y="536.90" width="35.85" height="7.90" fill="#f8f9fe"/><rect x="170.73" y="536.90" width="35.85" height="7.90" fill="#f8f9fe"/><rect x="207.65" y="536.90" width="36.92" height="7.90" fill="#f8f9fe"/><rect x="244.57" y="536.90" width="36.92" height="7.90" fill="#f8f9fe"/><rect x="281.49" y="536.90" width="36.92" height="7.90" fill="#f8f9fe"/><rect x="318.41" y="536.90" width="36.92" height="7.90" fill="#f8f9fe"/><rect x="355.33" y="536.90" width="35.85" height="7.90" fill="#f8f9fe"/><rect x="23.05" y="546.10" width="35.85" height="7.70" fill="#f8f9fe"/><rect x="59.97" y="546.10" width="35.85" height="7.70" fill="#f8f9fe"/><rect x="96.89" y="546.10" width="35.85" height="7.70" fill="#f8f9fe"/><rect x="133.81" y="546.10" width="35.85" height="7.70" fill="#f8f9fe"/><rect x="170.73" y="546.10" width="35.85" height="7.70" fill="#f8f9fe"/><rect x="207.65" y="546.10" width="36.92" height="7.70" fill="#f8f9fe"/><rect x="244.57" y="546.10" width="36.92" height="7.70" fill="#f8f9fe"/><rect x="281.49" y="546.10" width="36.92" height="7.70" fill="#f8f9fe"/><rect x="318.41" y="546.10" width="36.65" height="7.70" fill="#f8f9fe"/><rect x="23.05" y="555.00" width="35.85" height="7.90" fill="#f8f9fe"/><rect x="59.97" y="555.00" width="35.85" height="7.90" fill="#f8f9fe"/><rect x="96.89" y="555.00" width="35.85" height="7.90" fill="#eff1fc"/><rect x="133.81" y="555.00" width="35.85" height="7.90" fill="#f8f9fe"/><rect x="170.73" y="555.00" width="35.85" height="7.90" fill="#f8f9fe"/><rect x="207.65" y="555.00" width="36.92" height="7.90" fill="#f8f9fe"/><rect x="244.57" y="555.00" width="36.92" height="7.90" fill="#f8f9fe"/><rect x="281.49" y="555.00" width="36.65" height="7.90" fill="#f8f9fe"/><rect x="23.05" y="562.90" width="35.85" height="9.00" fill="#f8f9fe"/><rect x="59.97" y="562.90" width="35.85" height="9.00" fill="#eff1fc"/><rect x="96.89" y="562.90" width="35.85" height="9.00" fill="#f8f9fe"/><rect x="133.81" y="562.90" width="35.85" height="9.00" fill="#f8f9fe"/><rect x="170.73" y="562.90" width="35.85" height="9.00" fill="#e1e5f9"/><rect x="207.65" y="562.90" width="36.92" height="9.00" fill="#f8f9fe"/><rect x="244.57" y="562.90" width="36.65" height="9.00" fill="#f8f9fe"/><rect x="23.05" y="571.90" width="35.85" height="8.10" fill="#f8f9fe"/><rect x="59.97" y="571.90" width="35.85" height="8.10" fill="#f8f9fe"/><rect x="96.89" y="571.90" width="35.85" height="8.10" fill="#f8f9fe"/><rect x="133.81" y="571.90" width="35.85" height="8.10" fill="#f8f9fe"/><rect x="170.73" y="571.90" width="35.85" height="8.10" fill="#f8f9fe"/><rect x="207.65" y="571.90" width="36.65" height="8.10" fill="#f8f9fe"/><rect x="23.05" y="581.20" width="35.85" height="7.70" fill="#f8f9fe"/><rect x="59.97" y="581.20" width="35.85" height="7.70" fill="#f8f9fe"/><rect x="96.89" y="581.20" width="35.85" height="7.70" fill="#f8f9fe"/><rect x="133.81" y="581.20" width="35.85" height="7.70" fill="#f8f9fe"/><rect x="170.73" y="581.20" width="35.85" height="7.70" fill="#f8f9fe"/><rect x="23.05" y="590.20" width="35.85" height="7.70" fill="#f8f9fe"/><rect x="59.97" y="590.20" width="35.85" height="7.70" fill="#f8f9fe"/><rect x="96.89" y="590.20" width="35.85" height="7.70" fill="#f8f9fe"/><rect x="133.81" y="590.20" width="35.85" height="7.70" fill="#f8f9fe"/><rect x="23.05" y="597.90" width="35.85" height="9.00" fill="#eff1fc"/><rect x="59.97" y="597.90" width="35.85" height="9.00" fill="#f8f9fe"/><rect x="96.89" y="597.90" width="35.85" height="9.00" fill="#f8f9fe"/><rect x="23.05" y="606.90" width="35.85" height="7.90" fill="#f8f9fe"/><rect x="59.97" y="606.90" width="35.85" height="7.90" fill="#f8f9fe"/><rect x="23.05" y="616.00" width="35.85" height="7.70" fill="#eff1fc"/><text x="40.95" y="516.80" font-size="8.6" text-anchor="middle" fill="#5f5f5f">0</text><text x="77.87" y="516.80" font-size="8.6" text-anchor="middle" fill="#5f5f5f">1</text><text x="114.79" y="516.80" font-size="8.6" text-anchor="middle" fill="#5f5f5f">2</text><text x="151.71" y="516.80" font-size="8.6" text-anchor="middle" fill="#5f5f5f">3</text><text x="188.63" y="516.80" font-size="8.6" text-anchor="middle" fill="#5f5f5f">4</text><text x="225.55" y="516.80" font-size="8.6" text-anchor="middle" fill="#5f5f5f">5</text><text x="262.47" y="516.80" font-size="8.6" text-anchor="middle" fill="#5f5f5f">6</text><text x="299.39" y="516.80" font-size="8.6" text-anchor="middle" fill="#5f5f5f">7</text><text x="336.31" y="516.80" font-size="8.6" text-anchor="middle" fill="#5f5f5f">8</text><text x="373.23" y="516.80" font-size="8.6" text-anchor="middle" fill="#5f5f5f">9</text><text x="410.15" y="516.80" font-size="8.6" text-anchor="middle" fill="#5f5f5f">10</text><text x="447.07" y="516.80" font-size="8.6" text-anchor="middle" fill="#5f5f5f">11</text></svg>
<span class="t " style="left:23.70px;top:662px;font-size:9.4px;line-height:12px;color:#303030;letter-spacing:-0.019px;-webkit-text-stroke:0.18px #303030;">Last 12 months</span>
<div class="ul" style="left:23.6px;top:673px;width:64.4px"></div>
<span class="t " style="left:340.80px;top:663px;font-size:9.4px;line-height:12px;color:#4a4a4a;letter-spacing:0.114px;">March 2023 – February 2024</span>
<svg width="1436" height="697"><rect x="484.00" y="483.90" width="461.20" height="199.00" rx="6.4" fill="url(#cardg)"/><rect x="485.20" y="484.00" width="458.70" height="197.80" rx="5.8" fill="#fff"/></svg>
<svg width="1436" height="697"><g fill="none" stroke="#6c6c6c" stroke-width="1"><rect x="927.5" y="495.5" width="6" height="6" rx="1.3" fill="#fff"/><path d="M929.2 497.5h2.8"/><circle cx="932.4" cy="500.4" r="1.15" fill="#fff"/><path d="M933.3 501.3l1 1" stroke-width="0.8"/></g></svg>
<span class="t " style="left:494.10px;top:493px;font-size:9.4px;line-height:12px;color:#303030;letter-spacing:0.103px;-webkit-text-stroke:0.14px #303030;">Returning customer rate</span>
<div class="ul" style="left:494.0px;top:504.1px;width:103.7px;"></div>
<span class="t " style="left:492.90px;top:507px;font-size:10.5px;line-height:14px;color:#303030;font-weight:700;letter-spacing:0.252px;">2,09 %</span>
<svg width="1436" height="697"><rect x="532.1" y="513.2" width="4.6" height="1.6" rx="0.5" fill="#c4c4c4"/></svg>
<svg width="1436" height="697"><path d="M515.5 533.30H933.9" stroke="#f0f0f1" stroke-width="0.8"/><path d="M515.5 559.40H933.9" stroke="#f0f0f1" stroke-width="0.8"/><path d="M515.5 585.50H933.9" stroke="#f0f0f1" stroke-width="0.8"/><path d="M515.5 611.60H933.9" stroke="#f0f0f1" stroke-width="0.8"/><path d="M515.5 637.70H933.9" stroke="#f0f0f1" stroke-width="0.8"/><text x="506.20" y="535.20" font-size="5.9" text-anchor="end" textLength="11.40" lengthAdjust="spacing" fill="#686872">200</text><text x="506.20" y="561.30" font-size="5.9" text-anchor="end" textLength="11.00" lengthAdjust="spacing" fill="#686872">150</text><text x="506.20" y="587.40" font-size="5.9" text-anchor="end" textLength="11.00" lengthAdjust="spacing" fill="#686872">100</text><text x="506.20" y="613.50" font-size="5.9" text-anchor="end" textLength="7.80" lengthAdjust="spacing" fill="#686872">50</text><text x="506.20" y="639.60" font-size="5.9" text-anchor="end" textLength="3.40" lengthAdjust="spacing" fill="#686872">0</text><text x="515.00" y="651.20" font-size="5.9" text-anchor="middle" textLength="29.20" lengthAdjust="spacing" fill="#686872">Nov 2022</text><text x="567.30" y="651.20" font-size="5.9" text-anchor="middle" textLength="28.20" lengthAdjust="spacing" fill="#686872">Jan 2023</text><text x="619.60" y="651.20" font-size="5.9" text-anchor="middle" textLength="29.00" lengthAdjust="spacing" fill="#686872">Mar 2023</text><text x="671.90" y="651.20" font-size="5.9" text-anchor="middle" textLength="29.80" lengthAdjust="spacing" fill="#686872">May 2023</text><text x="724.20" y="651.20" font-size="5.9" text-anchor="middle" textLength="26.00" lengthAdjust="spacing" fill="#686872">Jul 2023</text><text x="776.50" y="651.20" font-size="5.9" text-anchor="middle" textLength="29.20" lengthAdjust="spacing" fill="#686872">Sep 2023</text><text x="828.80" y="651.20" font-size="5.9" text-anchor="middle" textLength="29.20" lengthAdjust="spacing" fill="#686872">Nov 2023</text><text x="881.10" y="651.20" font-size="5.9" text-anchor="middle" textLength="28.20" lengthAdjust="spacing" fill="#686872">Jan 2024</text><path d="M515.50,637.70C531.71,637.70 525.44,637.00 541.65,637.00C557.86,637.00 551.59,635.70 567.80,635.70C584.01,635.70 577.74,637.70 593.95,637.70C610.16,637.70 603.89,637.30 620.10,637.30C636.31,637.30 630.04,634.70 646.25,634.70C662.46,634.70 656.19,615.90 672.40,615.90C688.61,615.90 682.34,601.50 698.55,601.50C714.76,601.50 708.49,617.50 724.70,617.50C740.91,617.50 734.64,606.10 750.85,606.10C767.06,606.10 760.79,613.20 777.00,613.20C793.21,613.20 786.94,563.80 803.15,563.80C819.36,563.80 813.09,535.60 829.30,535.60C845.51,535.60 839.24,548.90 855.45,548.90C871.66,548.90 865.39,581.70 881.60,581.70C897.81,581.70 891.54,602.40 907.75,602.40C923.96,602.40 917.69,611.80 933.90,611.80L933.90,637.70L515.50,637.70Z" fill="#4a9ee8" fill-opacity="0.27"/><path d="M515.50,637.70C531.71,637.70 525.44,637.70 541.65,637.70C557.86,637.70 551.59,637.70 567.80,637.70C584.01,637.70 577.74,637.70 593.95,637.70C610.16,637.70 603.89,637.70 620.10,637.70C636.31,637.70 630.04,637.70 646.25,637.70C662.46,637.70 656.19,637.70 672.40,637.70C688.61,637.70 682.34,636.55 698.55,636.55C714.76,636.55 708.49,636.86 724.70,636.86C740.91,636.86 734.64,637.18 750.85,637.18C767.06,637.18 760.79,637.49 777.00,637.49C793.21,637.49 786.94,636.66 803.15,636.66C819.36,636.66 813.09,636.66 829.30,636.66C845.51,636.66 839.24,637.39 855.45,637.39C871.66,637.39 865.39,634.05 881.60,634.05C897.81,634.05 891.54,636.86 907.75,636.86C923.96,636.86 917.69,637.28 933.90,637.28L933.90,637.70L515.50,637.70Z" fill="#d9c8f5"/><path d="M515.50,637.70C531.71,637.70 525.44,637.00 541.65,637.00C557.86,637.00 551.59,635.70 567.80,635.70C584.01,635.70 577.74,637.70 593.95,637.70C610.16,637.70 603.89,637.30 620.10,637.30C636.31,637.30 630.04,634.70 646.25,634.70C662.46,634.70 656.19,615.90 672.40,615.90C688.61,615.90 682.34,601.50 698.55,601.50C714.76,601.50 708.49,617.50 724.70,617.50C740.91,617.50 734.64,606.10 750.85,606.10C767.06,606.10 760.79,613.20 777.00,613.20C793.21,613.20 786.94,563.80 803.15,563.80C819.36,563.80 813.09,535.60 829.30,535.60C845.51,535.60 839.24,548.90 855.45,548.90C871.66,548.90 865.39,581.70 881.60,581.70C897.81,581.70 891.54,602.40 907.75,602.40C923.96,602.40 917.69,611.80 933.90,611.80" fill="none" stroke="#479fe8" stroke-width="1"/><path d="M515.50,637.70C531.71,637.70 525.44,637.70 541.65,637.70C557.86,637.70 551.59,637.70 567.80,637.70C584.01,637.70 577.74,637.70 593.95,637.70C610.16,637.70 603.89,637.70 620.10,637.70C636.31,637.70 630.04,637.70 646.25,637.70C662.46,637.70 656.19,637.70 672.40,637.70C688.61,637.70 682.34,636.55 698.55,636.55C714.76,636.55 708.49,636.86 724.70,636.86C740.91,636.86 734.64,637.18 750.85,637.18C767.06,637.18 760.79,637.49 777.00,637.49C793.21,637.49 786.94,636.66 803.15,636.66C819.36,636.66 813.09,636.66 829.30,636.66C845.51,636.66 839.24,637.39 855.45,637.39C871.66,637.39 865.39,634.05 881.60,634.05C897.81,634.05 891.54,636.86 907.75,636.86C923.96,636.86 917.69,637.28 933.90,637.28" fill="none" stroke="#7a3fe0" stroke-width="1"/></svg>
<div class="abs" style="left:870.3px;top:661.1px;width:63.7px;height:12.5px;background:#f4f4f4"></div>
<span class="t " style="left:884.10px;top:662px;font-size:9.0px;line-height:12px;color:#72727c;letter-spacing:0.319px;height:11px;overflow:hidden;">Returning</span>
<div class="abs" style="left:801.2px;top:661.1px;width:62.8px;height:12.5px;background:#f4f4f4"></div>
<span class="t " style="left:814.80px;top:662px;font-size:9.0px;line-height:12px;color:#72727c;letter-spacing:0.350px;height:11px;overflow:hidden;">First time</span>
<svg width="1436" height="697"><path d="M874.4 667.4h6.2" stroke="#7a3cf5" stroke-width="1.1"/><path d="M805.3 667.4h6.2" stroke="#3f9ef0" stroke-width="1.1"/></svg>
<svg width="1436" height="697"><rect x="953.65" y="483.90" width="461.25" height="199.00" rx="6.4" fill="url(#cardg)"/><rect x="953.80" y="484.00" width="460.60" height="197.80" rx="5.8" fill="#fff"/></svg>
<svg width="1436" height="697"><g fill="none" stroke="#6c6c6c" stroke-width="1"><rect x="1397.5" y="495.5" width="6" height="6" rx="1.3" fill="#fff"/><path d="M1399.2 497.5h2.8"/><circle cx="1402.4" cy="500.4" r="1.15" fill="#fff"/><path d="M1403.3 501.3l1 1" stroke-width="0.8"/></g></svg>
<span class="t " style="left:964.10px;top:493px;font-size:9.4px;line-height:12px;color:#303030;letter-spacing:0.102px;-webkit-text-stroke:0.14px #303030;">Sales attributed to marketing</span>
<div class="ul" style="left:964.0px;top:504.1px;width:123.1px;"></div>
<svg width="1436" height="697"><defs><linearGradient id="gm" gradientUnits="userSpaceOnUse" x1="963" y1="0" x2="1363.5" y2="0"><stop offset="0" stop-color="#3b8bd0"/><stop offset="1" stop-color="#5eb0ed"/></linearGradient></defs><text x="963.00" y="511.60" font-size="5.8" textLength="39.90" lengthAdjust="spacing" fill="#686872">20553176765</text><path d="M963 516.90H1362.50a1.5 1.5 0 0 1 1.5 1.5v13.7a1.5 1.5 0 0 1 -1.5 1.5H963Z" fill="url(#gm)"/><text x="1369.20" y="527.50" font-size="5.9" textLength="33.00" lengthAdjust="spacing" fill="#686872">SEK216.5K</text><text x="963.00" y="546.80" font-size="5.8" textLength="35.00" lengthAdjust="spacing" fill="#686872">sag_organic</text><path d="M963 552.10H1124.00a1.5 1.5 0 0 1 1.5 1.5v13.7a1.5 1.5 0 0 1 -1.5 1.5H963Z" fill="url(#gm)"/><text x="1130.70" y="562.70" font-size="5.9" textLength="29.00" lengthAdjust="spacing" fill="#686872">SEK87.7K</text><text x="963.00" y="582.00" font-size="5.8" textLength="108.60" lengthAdjust="spacing" fill="#686872">WV // Salg // Advantage+ Annoncesæt</text><path d="M963 587.30H1037.00a1.5 1.5 0 0 1 1.5 1.5v13.7a1.5 1.5 0 0 1 -1.5 1.5H963Z" fill="url(#gm)"/><text x="1043.70" y="597.90" font-size="5.9" textLength="29.80" lengthAdjust="spacing" fill="#686872">SEK40.8K</text><text x="963.00" y="617.20" font-size="5.8" textLength="97.60" lengthAdjust="spacing" fill="#686872">WV // Top Funnel // Konverteringer</text><path d="M963 622.50H1025.00a1.5 1.5 0 0 1 1.5 1.5v13.7a1.5 1.5 0 0 1 -1.5 1.5H963Z" fill="url(#gm)"/><text x="1031.70" y="633.10" font-size="5.9" textLength="29.80" lengthAdjust="spacing" fill="#686872">SEK34.4K</text><text x="963.00" y="652.40" font-size="5.8" textLength="65.20" lengthAdjust="spacing" fill="#686872">#4 Dampsauna - Video</text><path d="M963 657.70H1015.20a1.5 1.5 0 0 1 1.5 1.5v13.7a1.5 1.5 0 0 1 -1.5 1.5H963Z" fill="url(#gm)"/><text x="1021.90" y="668.30" font-size="5.9" textLength="28.60" lengthAdjust="spacing" fill="#686872">SEK29.1K</text></svg>
<svg width="1436" height="697"><rect x="13.90" y="691.90" width="461.15" height="199.00" rx="6.4" fill="url(#cardg)"/><rect x="14.90" y="692.00" width="460.00" height="197.80" rx="5.8" fill="#fff"/></svg>
<svg width="1436" height="697"><rect x="484.00" y="691.90" width="461.20" height="199.00" rx="6.4" fill="url(#cardg)"/><rect x="485.20" y="692.00" width="458.70" height="197.80" rx="5.8" fill="#fff"/></svg>
<svg width="1436" height="697"><rect x="953.65" y="691.90" width="461.25" height="199.00" rx="6.4" fill="url(#cardg)"/><rect x="953.80" y="692.00" width="460.60" height="197.80" rx="5.8" fill="#fff"/></svg>
</div></body></html>
